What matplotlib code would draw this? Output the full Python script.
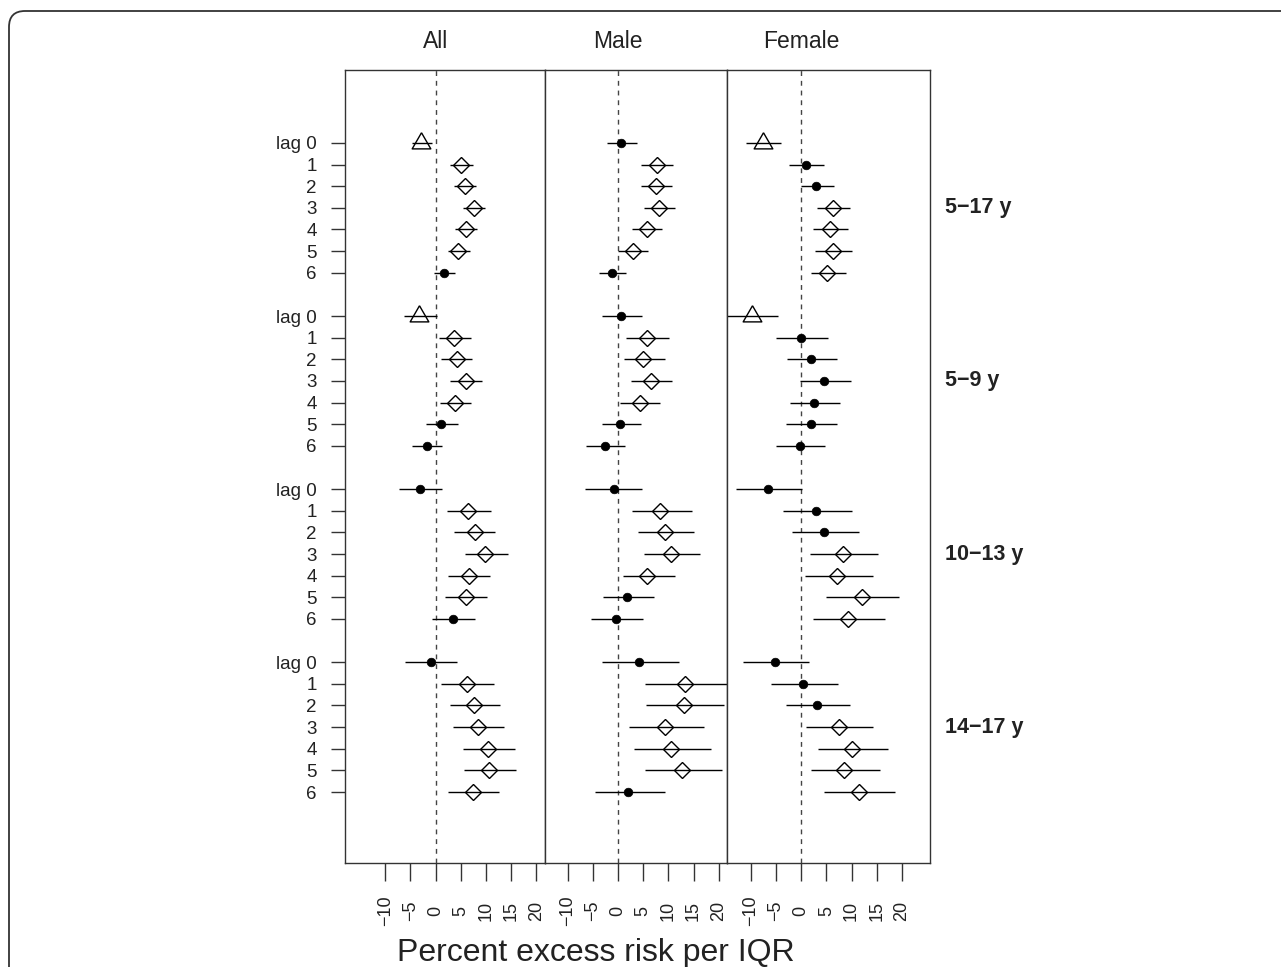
import numpy as np
import matplotlib
matplotlib.use("Agg")
import matplotlib.pyplot as plt
from matplotlib.patches import FancyBboxPatch
from matplotlib.transforms import blended_transform_factory, IdentityTransform

plt.rcParams['font.family'] = ['Liberation Sans', 'DejaVu Sans']

panels = ["All", "Male", "Female"]
age_groups = ["5\u221217 y", "5\u22129 y", "10\u221213 y", "14\u221217 y"]
lag_labels = ["lag 0", "1", "2", "3", "4", "5", "6"]
xtick_vals = [-10, -5, 0, 5, 10, 15, 20]

# percent excess risk, rows = age groups, cols = lag 0..6
all_est = [[-2.8, 5.0, 5.8, 7.6, 6.0, 4.5, 1.7],
           [-3.2, 3.7, 4.2, 6.1, 3.8, 1.1, -1.7],
           [-3.1, 6.5, 7.8, 9.9, 6.6, 6.0, 3.4],
           [-1.0, 6.2, 7.7, 8.4, 10.4, 10.7, 7.4]]
all_lo = [[-4.6, 2.8, 3.6, 5.5, 3.8, 2.4, -0.3],
          [-6.3, 0.7, 1.1, 2.8, 0.8, -1.9, -4.6],
          [-7.3, 2.2, 3.6, 5.8, 2.5, 1.8, -0.7],
          [-6.0, 1.1, 2.8, 3.5, 5.5, 5.6, 2.5]]
all_hi = [[-0.7, 7.4, 8.1, 9.9, 8.3, 6.9, 3.8],
          [0.3, 7.0, 7.2, 9.3, 7.0, 4.4, 1.3],
          [1.2, 11.1, 11.9, 14.4, 10.9, 10.3, 7.8],
          [4.3, 11.6, 12.8, 13.6, 15.8, 16.0, 12.6]]
all_mk = ["TDDDDDo", "TDDDDoo", "oDDDDDo", "oDDDDDD"]

male_est = [[0.6, 7.7, 7.6, 8.2, 5.8, 2.9, -1.2],
            [0.5, 5.7, 5.0, 6.6, 4.3, 0.4, -2.6],
            [-0.9, 8.4, 9.3, 10.6, 5.8, 1.7, -0.4],
            [4.2, 13.2, 13.0, 9.3, 10.5, 12.7, 2.0]]
male_lo = [[-2.3, 4.6, 4.6, 5.2, 2.8, 0.0, -3.9],
           [-3.2, 1.5, 1.1, 2.6, 0.4, -3.2, -6.3],
           [-6.5, 2.8, 4.0, 5.2, 0.9, -3.0, -5.3],
           [-3.2, 5.3, 5.6, 2.2, 3.2, 5.3, -4.5]]
male_hi = [[3.8, 10.9, 10.7, 11.3, 8.7, 5.9, 1.6],
           [4.8, 10.1, 9.3, 10.7, 8.4, 4.5, 1.3],
           [4.7, 14.6, 15.0, 16.3, 11.4, 7.1, 4.9],
           [12.1, 22.3, 21.1, 17.0, 18.4, 20.7, 9.3]]
male_mk = ["oDDDDDo", "oDDDDoo", "oDDDDoo", "oDDDDDo"]

female_est = [[-7.6, 0.9, 3.0, 6.4, 5.8, 6.3, 5.2],
              [-9.8, 0.0, 2.0, 4.5, 2.6, 1.9, -0.3],
              [-6.6, 3.0, 4.6, 8.3, 7.2, 12.1, 9.2],
              [-5.2, 0.3, 3.2, 7.5, 10.1, 8.5, 11.5]]
female_lo = [[-10.9, -2.4, -0.1, 3.1, 2.4, 2.8, 1.9],
             [-15.0, -5.0, -2.8, -0.3, -2.2, -3.0, -5.1],
             [-12.9, -3.6, -1.9, 1.8, 0.8, 5.0, 2.4],
             [-11.6, -6.1, -3.0, 1.0, 3.4, 1.9, 4.6]]
female_hi = [[-4.0, 4.6, 6.5, 9.7, 9.3, 10.0, 8.9],
             [-4.6, 5.3, 7.2, 9.8, 7.8, 7.2, 4.7],
             [0.1, 10.1, 11.4, 15.2, 14.2, 19.5, 16.7],
             [1.5, 7.4, 9.7, 14.2, 17.3, 15.7, 18.7]]
female_mk = ["TooDDDD", "Toooooo", "oooDDDD", "oooDDDD"]

panel_data = [(all_est, all_lo, all_hi, all_mk),
              (male_est, male_lo, male_hi, male_mk),
              (female_est, female_lo, female_hi, female_mk)]
xlims = [(-18.0, 21.8), (-14.5, 21.7), (-14.7, 25.6)]

W, H = 1281, 967
fig = plt.figure(figsize=(W / 100, H / 100), dpi=100)
widths = [b - a for a, b in xlims]
gs = fig.add_gridspec(1, 3, left=345 / W, right=930 / W,
                      bottom=1 - 863 / H, top=1 - 70 / H,
                      width_ratios=widths, wspace=0)

# row positions: 7 lags per group, one blank row between groups
ypos = np.array([[g * 8 + l for l in range(7)] for g in range(4)])

tri = [(0, 0.577), (-0.5, -0.289), (0.5, -0.289), (0, 0.577)]
mk_style = {
    "T": dict(marker=tri, ms=15.5, mfc="none", mec="black", mew=1.0),
    "D": dict(marker="D", ms=8.6, mfc="none", mec="black", mew=1.0),
    "o": dict(marker="o", ms=6.2, mfc="black", mec="black", mew=0.5),
}

axes = []
for i, (est, lo, hi, mk) in enumerate(panel_data):
    ax = fig.add_subplot(gs[0, i])
    axes.append(ax)
    est = np.array(est)
    lo = np.array(lo)
    hi = np.array(hi)
    ax.axvline(0, color="#444444", lw=1.0, ls=(0, (3.5, 3.5)), zorder=1)
    ax.hlines(ypos.ravel(), lo.ravel(), hi.ravel(), color="black", lw=1.0, zorder=2)
    for g in range(4):
        for l in range(7):
            ax.plot(est[g, l], ypos[g, l], ls="none", zorder=3, **mk_style[mk[g][l]])
    ax.set_xlim(*xlims[i])
    ax.set_ylim(30 + 3.28, -3.37)
    for sp in ax.spines.values():
        sp.set_linewidth(1.0)
        sp.set_color("#333333")
    ax.set_xticks(xtick_vals)
    ax.set_xticklabels([str(v).replace("-", "\u2212") for v in xtick_vals],
                       rotation=90, fontsize=13, color="#222222")
    ax.tick_params(axis="x", length=13, width=1.0, pad=21.5, color="#333333")
    for lab in ax.get_xticklabels():
        lab.set_va("center")
    if i == 0:
        ax.set_yticks(ypos.ravel())
        ax.set_yticklabels(lag_labels * 4, fontsize=13.5, color="#222222")
        ax.tick_params(axis="y", length=10, width=1.0, pad=10.5, color="#333333")
    else:
        ax.set_yticks([])
    tr = blended_transform_factory(ax.transData, fig.transFigure)
    ax.text(0, 1 - 42 / H, panels[i], transform=tr, ha="center", va="center",
            fontsize=16.5, color="#222222")

# age group labels on the right
tr_r = blended_transform_factory(fig.transFigure, axes[2].transData)
for g, lab in enumerate(age_groups):
    axes[2].text(945 / W, g * 8 + 3, lab, transform=tr_r, ha="left", va="center",
                 fontsize=15.5, fontweight="bold", color="#222222")

fig.text(596 / W, 1 - 953 / H, "Percent excess risk per IQR", ha="center",
         va="center", fontsize=23, color="#222222")

# rounded frame around the figure
frame = FancyBboxPatch((9, -60), 1400, H - 11 + 60,
                       boxstyle="round,pad=0,rounding_size=16",
                       transform=IdentityTransform(), fill=False,
                       lw=1.3, ec="#333333")
fig.add_artist(frame)

fig.savefig("out.png", dpi=100)
